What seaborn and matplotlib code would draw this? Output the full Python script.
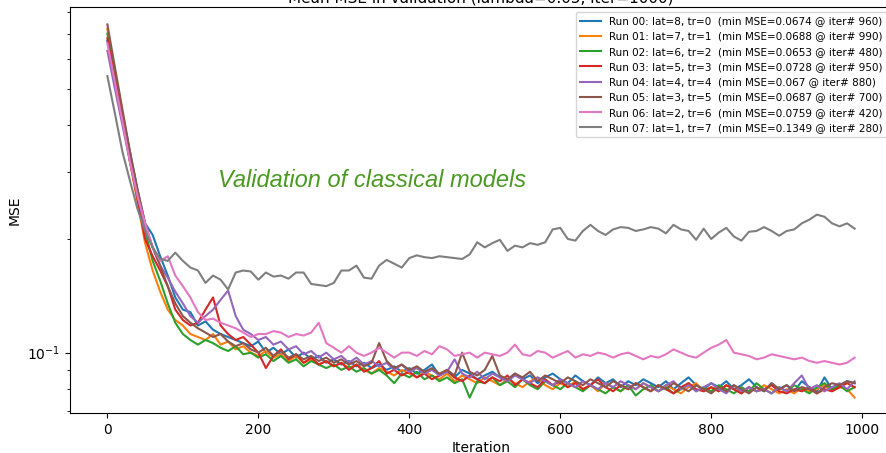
import numpy as np
import pandas as pd
import matplotlib
matplotlib.use("Agg")
import matplotlib.pyplot as plt
import matplotlib.ticker as mticker
import seaborn as sns

iterations = list(range(0, 1000, 10))

run_labels = [
    "Run 00: lat=8, tr=0  (min MSE=0.0674 @ iter# 960)",
    "Run 01: lat=7, tr=1  (min MSE=0.0688 @ iter# 990)",
    "Run 02: lat=6, tr=2  (min MSE=0.0653 @ iter# 480)",
    "Run 03: lat=5, tr=3  (min MSE=0.0728 @ iter# 950)",
    "Run 04: lat=4, tr=4  (min MSE=0.067 @ iter# 880)",
    "Run 05: lat=3, tr=5  (min MSE=0.0687 @ iter# 700)",
    "Run 06: lat=2, tr=6  (min MSE=0.0759 @ iter# 420)",
    "Run 07: lat=1, tr=7  (min MSE=0.1349 @ iter# 280)",
]

run00 = [0.67, 0.54, 0.43, 0.34, 0.27, 0.22, 0.205, 0.18, 0.16, 0.14,
         0.13, 0.128, 0.118, 0.121, 0.115, 0.112, 0.11, 0.108, 0.106, 0.104,
         0.107, 0.1, 0.103, 0.099, 0.102, 0.097, 0.1, 0.096, 0.098, 0.094,
         0.096, 0.093, 0.095, 0.092, 0.094, 0.091, 0.093, 0.09, 0.092, 0.089,
         0.091, 0.088, 0.09, 0.093, 0.087, 0.089, 0.086, 0.09, 0.088, 0.085,
         0.087, 0.089, 0.086, 0.084, 0.088, 0.085, 0.087, 0.083, 0.086, 0.088,
         0.085, 0.083, 0.087, 0.084, 0.082, 0.086, 0.083, 0.085, 0.081, 0.084,
         0.082, 0.085, 0.083, 0.081, 0.084, 0.08, 0.083, 0.086, 0.082, 0.08,
         0.083, 0.081, 0.084, 0.08, 0.082, 0.085, 0.081, 0.079, 0.083, 0.08,
         0.082, 0.079, 0.084, 0.081, 0.079, 0.086, 0.08, 0.082, 0.084, 0.083]

run01 = [0.72, 0.55, 0.42, 0.32, 0.25, 0.195, 0.165, 0.145, 0.13, 0.122,
         0.118, 0.112, 0.11, 0.108, 0.112, 0.105, 0.107, 0.102, 0.104, 0.1,
         0.098, 0.101, 0.097, 0.099, 0.095, 0.098, 0.094, 0.096, 0.093, 0.095,
         0.092, 0.094, 0.091, 0.093, 0.09, 0.088, 0.091, 0.089, 0.087, 0.09,
         0.088, 0.086, 0.089, 0.087, 0.085, 0.088, 0.084, 0.087, 0.085, 0.083,
         0.086, 0.084, 0.082, 0.085, 0.083, 0.081, 0.084, 0.086, 0.082, 0.08,
         0.083, 0.081, 0.084, 0.08, 0.082, 0.079, 0.083, 0.081, 0.079, 0.082,
         0.08, 0.083, 0.081, 0.079, 0.082, 0.08, 0.078, 0.081, 0.083, 0.079,
         0.081, 0.079, 0.082, 0.08, 0.078, 0.081, 0.079, 0.082, 0.08, 0.078,
         0.08, 0.078, 0.081, 0.079, 0.08, 0.082, 0.079, 0.081, 0.08, 0.076]

run02 = [0.70, 0.54, 0.42, 0.33, 0.26, 0.21, 0.175, 0.155, 0.135, 0.12,
         0.112, 0.108, 0.105, 0.108, 0.106, 0.103, 0.101, 0.104, 0.099, 0.1,
         0.097, 0.099, 0.095, 0.098, 0.094, 0.096, 0.092, 0.095, 0.093, 0.091,
         0.093, 0.09, 0.092, 0.089, 0.091, 0.088, 0.09, 0.087, 0.083, 0.088,
         0.086, 0.089, 0.085, 0.087, 0.084, 0.086, 0.083, 0.085, 0.076, 0.084,
         0.083, 0.086, 0.082, 0.084, 0.081, 0.085, 0.082, 0.08, 0.084, 0.082,
         0.08, 0.083, 0.081, 0.079, 0.082, 0.08, 0.078, 0.081, 0.079, 0.082,
         0.077, 0.08, 0.082, 0.079, 0.081, 0.078, 0.08, 0.083, 0.079, 0.081,
         0.079, 0.082, 0.08, 0.078, 0.081, 0.079, 0.083, 0.08, 0.078, 0.081,
         0.079, 0.082, 0.08, 0.078, 0.081, 0.083, 0.08, 0.082, 0.079, 0.081]

run03 = [0.68, 0.53, 0.42, 0.32, 0.255, 0.2, 0.18, 0.165, 0.15, 0.13,
         0.122, 0.118, 0.12, 0.13, 0.14, 0.118, 0.112, 0.108, 0.11, 0.105,
         0.1, 0.091, 0.098, 0.102, 0.096, 0.099, 0.094, 0.097, 0.093, 0.095,
         0.092, 0.094, 0.09, 0.093, 0.089, 0.091, 0.095, 0.088, 0.09, 0.087,
         0.089, 0.086, 0.088, 0.085, 0.087, 0.09, 0.086, 0.084, 0.087, 0.085,
         0.083, 0.086, 0.084, 0.087, 0.082, 0.085, 0.083, 0.081, 0.085, 0.082,
         0.084, 0.081, 0.083, 0.08, 0.082, 0.085, 0.081, 0.079, 0.082, 0.08,
         0.083, 0.081, 0.079, 0.082, 0.08, 0.078, 0.081, 0.083, 0.08, 0.079,
         0.081, 0.079, 0.082, 0.08, 0.078, 0.081, 0.079, 0.08, 0.082, 0.079,
         0.078, 0.08, 0.079, 0.081, 0.078, 0.08, 0.079, 0.081, 0.083, 0.081]

run04 = [0.63, 0.5, 0.4, 0.32, 0.26, 0.215, 0.19, 0.17, 0.158, 0.145,
         0.135, 0.125, 0.12, 0.125, 0.13, 0.138, 0.146, 0.125, 0.115, 0.112,
         0.108, 0.11, 0.105, 0.107, 0.102, 0.104, 0.099, 0.101, 0.097, 0.1,
         0.096, 0.098, 0.094, 0.097, 0.093, 0.095, 0.092, 0.094, 0.09, 0.093,
         0.089, 0.091, 0.088, 0.09, 0.087, 0.089, 0.096, 0.088, 0.086, 0.089,
         0.085, 0.088, 0.086, 0.084, 0.087, 0.085, 0.083, 0.086, 0.084, 0.082,
         0.085, 0.083, 0.081, 0.084, 0.082, 0.08, 0.083, 0.081, 0.084, 0.082,
         0.08, 0.083, 0.081, 0.079, 0.082, 0.084, 0.08, 0.082, 0.079, 0.081,
         0.083, 0.08, 0.078, 0.082, 0.079, 0.081, 0.079, 0.08, 0.078, 0.081,
         0.079, 0.083, 0.087, 0.08, 0.082, 0.079, 0.081, 0.083, 0.08, 0.084]

run05 = [0.74, 0.57, 0.44, 0.34, 0.27, 0.22, 0.19, 0.17, 0.15, 0.135,
         0.125, 0.12, 0.116, 0.113, 0.11, 0.112, 0.107, 0.104, 0.106, 0.102,
         0.1, 0.103, 0.098, 0.101, 0.097, 0.099, 0.096, 0.098, 0.095, 0.097,
         0.094, 0.096, 0.093, 0.095, 0.092, 0.094, 0.106, 0.095, 0.091, 0.093,
         0.09, 0.092, 0.089, 0.091, 0.088, 0.09, 0.087, 0.1, 0.089, 0.087,
         0.09, 0.098, 0.087, 0.085, 0.088, 0.086, 0.089, 0.084, 0.087, 0.085,
         0.083, 0.086, 0.084, 0.082, 0.085, 0.083, 0.081, 0.084, 0.082, 0.08,
         0.083, 0.081, 0.079, 0.082, 0.08, 0.083, 0.081, 0.079, 0.082, 0.08,
         0.078, 0.081, 0.079, 0.082, 0.08, 0.078, 0.081, 0.079, 0.083, 0.08,
         0.082, 0.079, 0.081, 0.08, 0.078, 0.081, 0.083, 0.082, 0.084, 0.083]

run06 = [0.66, 0.52, 0.41, 0.32, 0.26, 0.22, 0.19, 0.175, 0.18, 0.16,
         0.15, 0.14, 0.128, 0.122, 0.123, 0.12, 0.118, 0.116, 0.113, 0.11,
         0.112, 0.112, 0.114, 0.113, 0.11, 0.112, 0.111, 0.113, 0.12, 0.106,
         0.103, 0.1, 0.104, 0.1, 0.098, 0.1, 0.103, 0.1, 0.097, 0.1,
         0.1, 0.098, 0.101, 0.099, 0.104, 0.102, 0.098, 0.099, 0.1, 0.097,
         0.1, 0.099, 0.098, 0.1, 0.105, 0.099, 0.098, 0.101, 0.1, 0.097,
         0.099, 0.101, 0.097, 0.099, 0.098, 0.1, 0.099, 0.097, 0.099, 0.1,
         0.098, 0.096, 0.098, 0.097, 0.099, 0.102, 0.1, 0.098, 0.097, 0.1,
         0.103, 0.105, 0.108, 0.1, 0.099, 0.098, 0.096, 0.097, 0.099, 0.098,
         0.097, 0.096, 0.097, 0.095, 0.094, 0.095, 0.094, 0.093, 0.094, 0.097]

run07 = [0.54, 0.43, 0.34, 0.285, 0.24, 0.21, 0.19, 0.177, 0.175, 0.184,
         0.175, 0.168, 0.165, 0.153, 0.16, 0.156, 0.147, 0.163, 0.165, 0.164,
         0.156, 0.163, 0.159, 0.16, 0.157, 0.163, 0.163, 0.152, 0.151, 0.15,
         0.153, 0.165, 0.165, 0.17, 0.158, 0.157, 0.17, 0.176, 0.172, 0.168,
         0.178, 0.181, 0.179, 0.178, 0.18, 0.179, 0.178, 0.177, 0.182, 0.196,
         0.19, 0.195, 0.199, 0.186, 0.192, 0.19, 0.195, 0.193, 0.196, 0.212,
         0.214, 0.2, 0.198, 0.21, 0.218, 0.21, 0.205, 0.212, 0.215, 0.214,
         0.21, 0.212, 0.215, 0.213, 0.207, 0.218, 0.212, 0.21, 0.199, 0.213,
         0.2, 0.208, 0.214, 0.203, 0.198, 0.209, 0.21, 0.215, 0.21, 0.204,
         0.21, 0.212, 0.22, 0.225, 0.232, 0.229, 0.22, 0.216, 0.22, 0.213]

series = [run00, run01, run02, run03, run04, run05, run06, run07]

title_text = "Mean MSE in validation (lambda=0.05, iter=1000)"
annotation_text = "Validation of classical models"

frames = []
for lab, vals in zip(run_labels, series):
    frames.append(pd.DataFrame({"Iteration": iterations, "MSE": vals, "run": lab}))
df = pd.concat(frames, ignore_index=True)

palette = sns.color_palette("tab10", 8)

fig = plt.figure(figsize=(8.86, 4.53), dpi=100)
ax = fig.add_axes([70 / 886, 40 / 453, 822 / 886, 406 / 453])

sns.lineplot(data=df, x="Iteration", y="MSE", hue="run", hue_order=run_labels,
             palette=palette, ax=ax, linewidth=1.5, estimator=None)

ax.set_yscale("log")
ax.set_xlim(-49.5, 1039.5)
ax.set_ylim(0.0692, 0.823)
ax.yaxis.set_minor_formatter(mticker.NullFormatter())
ax.set_xlabel("Iteration", fontsize=10, labelpad=3)
ax.set_ylabel("MSE", fontsize=10)
ax.set_title(title_text, fontsize=11, pad=3.5)

ax.text(146, 0.285, annotation_text, color="#4a9a22", fontsize=17,
        style="italic", family="Liberation Sans", ha="left", va="center")

leg = ax.legend(loc="upper right", fontsize=7.5, title=None)

fig.savefig("out.png", dpi=100)
